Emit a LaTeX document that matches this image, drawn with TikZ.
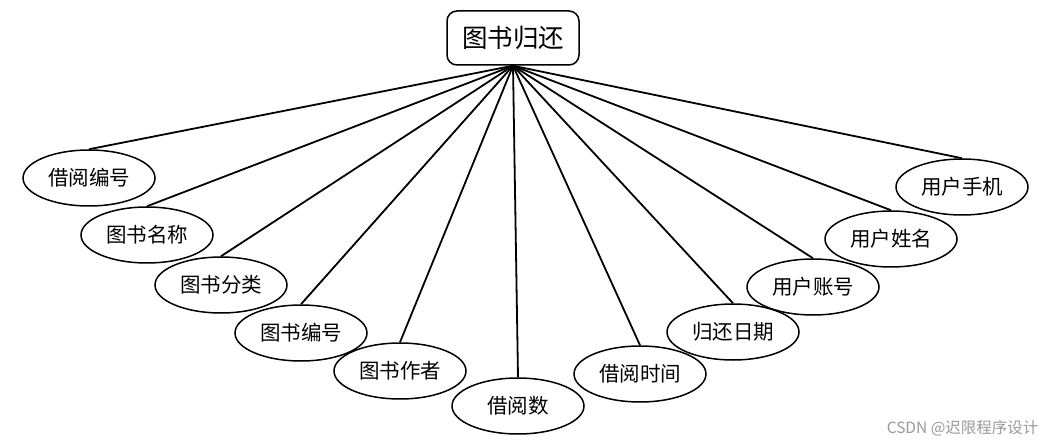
\documentclass[tikz,border=0pt]{standalone}
\usepackage{fontspec}
\setmainfont{Noto Sans CJK SC}
\usetikzlibrary{shapes.geometric}
\begin{document}
\begin{tikzpicture}[x=1pt,y=-1pt,
  attr/.style={ellipse,draw,line width=1.5pt,minimum width=132pt,minimum height=56pt,inner sep=0pt,font=\fontsize{20.5}{20.5}\selectfont},
  entity/.style={draw,line width=1.5pt,rounded corners=10pt,minimum width=132pt,minimum height=54pt,inner sep=0pt,font=\fontsize{25.5}{25.5}\selectfont},
  link/.style={line width=1.8pt}]
\useasboundingbox (0,0) rectangle (1049,446);
\node[entity] (top) at (513,38) {图书归还};
\node[attr] (a1) at (89,178) {借阅编号};
\node[attr] (a2) at (147,235) {图书名称};
\node[attr] (a3) at (221,285) {图书分类};
\node[attr] (a4) at (301,333) {图书编号};
\node[attr] (a5) at (400,371) {图书作者};
\node[attr] (a6) at (518,406) {借阅数};
\node[attr] (a7) at (640,374) {借阅时间};
\node[attr] (a8) at (733,332) {归还日期};
\node[attr] (a9) at (813,287) {用户账号};
\node[attr] (a10) at (891,239) {用户姓名};
\node[attr] (a11) at (962,187) {用户手机};
\foreach \i in {1,...,11} \draw[link] (top.south) -- (a\i.north);
\node[text=gray!80,font=\fontsize{15.5}{15.5}\selectfont,anchor=east] (wm) at (1042,428) {CSDN @迟限程序设计};
\end{tikzpicture}
\end{document}
